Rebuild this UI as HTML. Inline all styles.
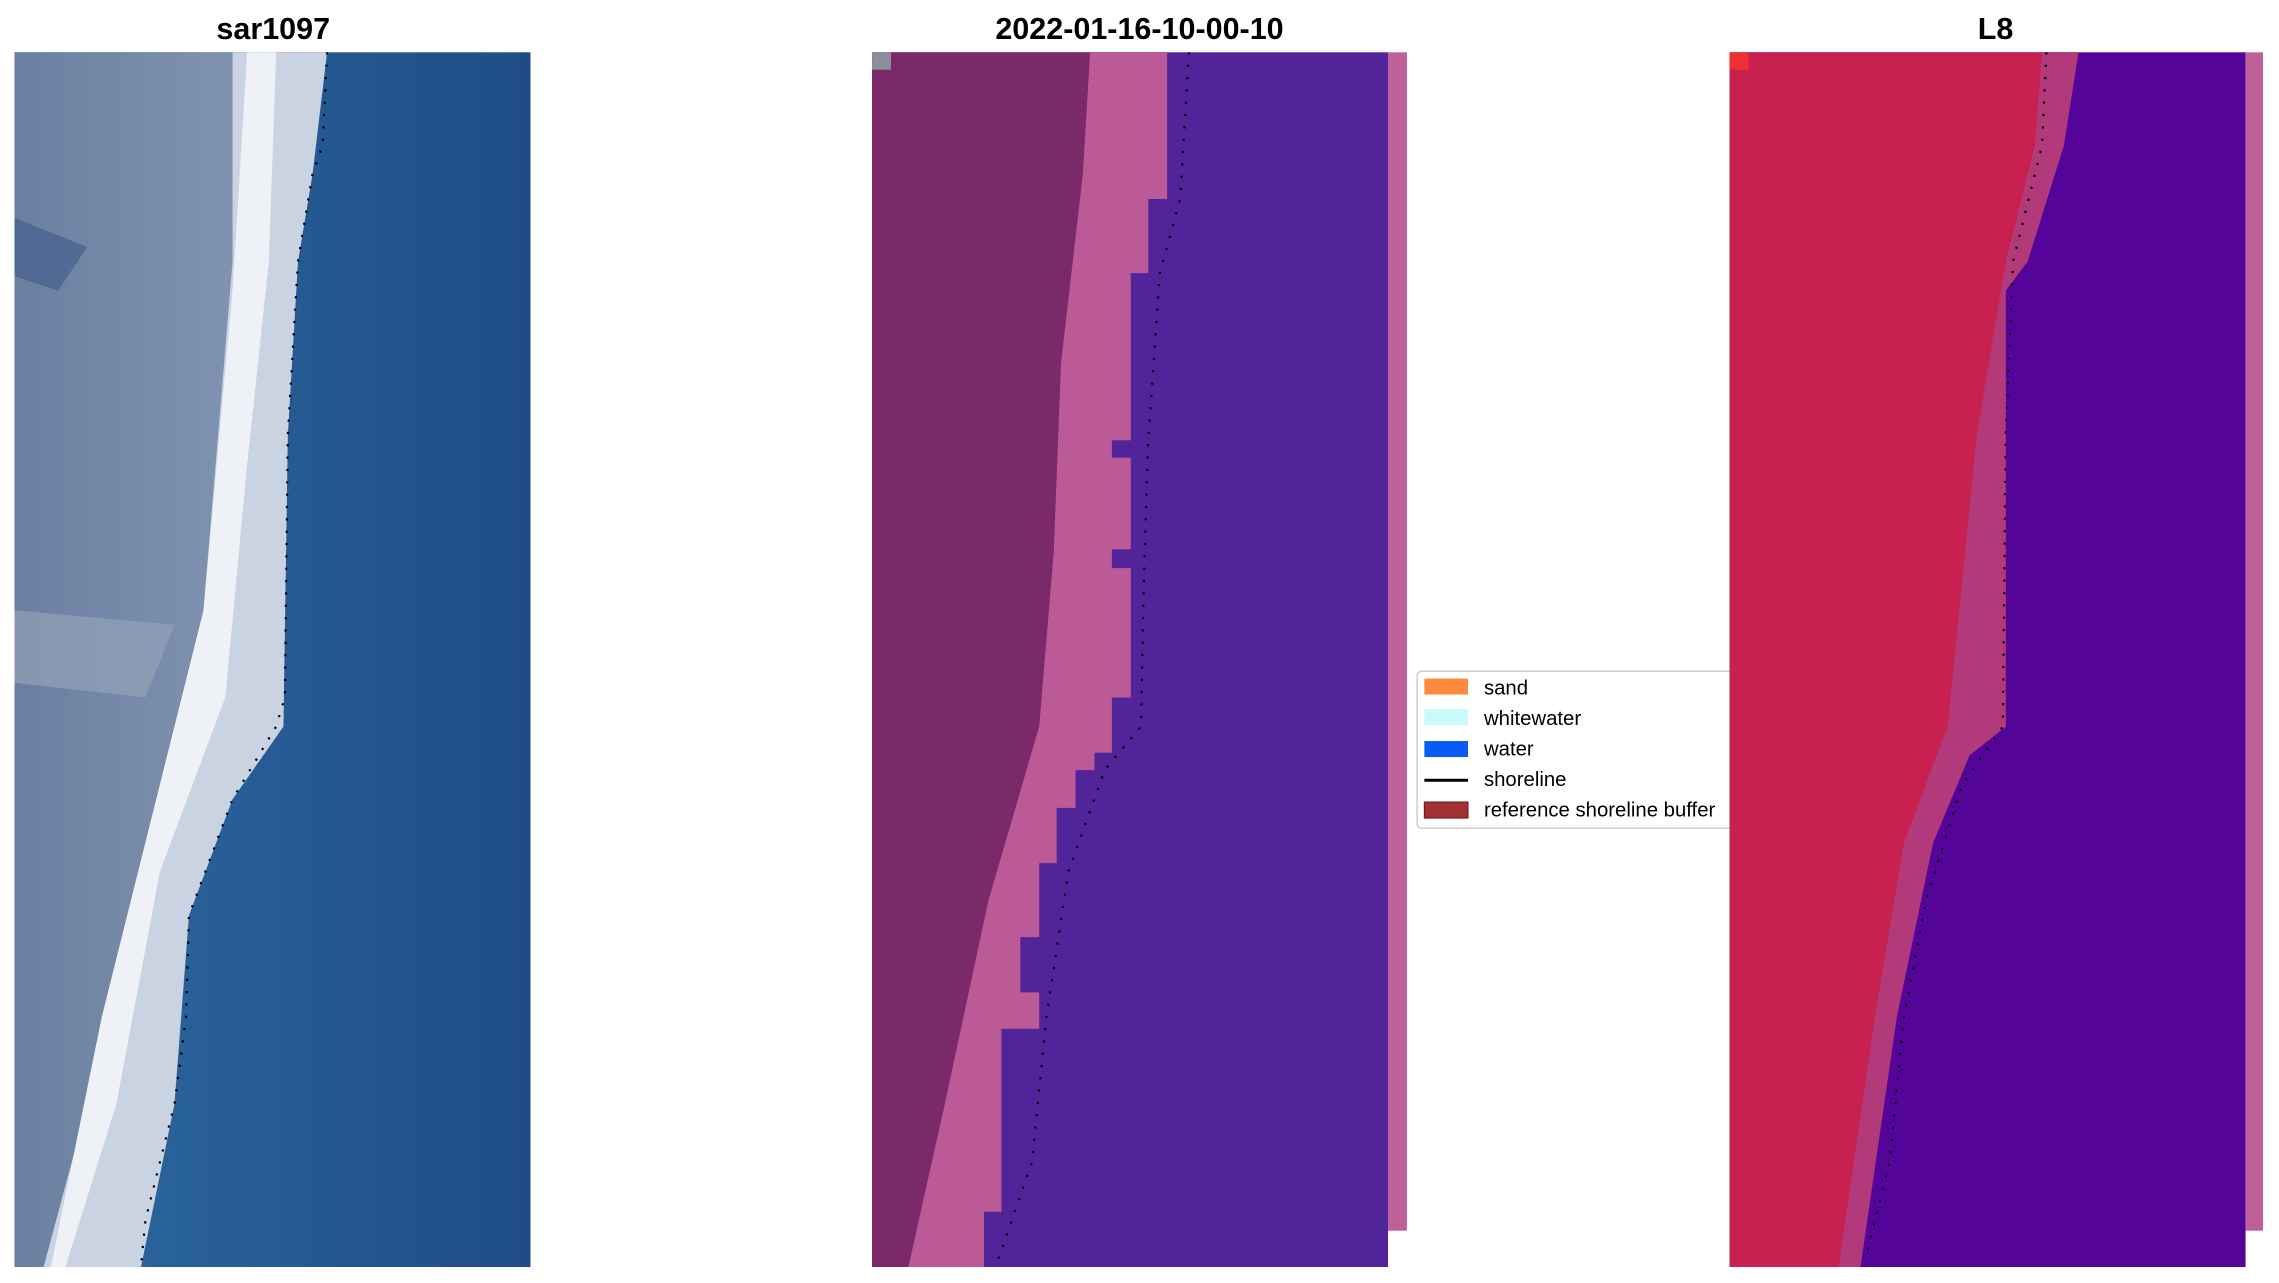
<!DOCTYPE html>
<html><head><meta charset="utf-8"><style>html,body{margin:0;padding:0;background:#fff}svg{display:block}</style></head>
<body>
<svg width="2279" height="1283" viewBox="0 0 1568 883" preserveAspectRatio="none" xmlns="http://www.w3.org/2000/svg" font-family="Liberation Sans, DejaVu Sans, sans-serif">
<defs>
<linearGradient id="w1" x1="0" x2="1" y1="0" y2="0"><stop offset="0" stop-color="#2d6aa3"/><stop offset="1" stop-color="#1f4c86"/></linearGradient>
<linearGradient id="l1" x1="0" x2="1" y1="0" y2="0"><stop offset="0" stop-color="#6a7fa0"/><stop offset="1" stop-color="#8a9bb8"/></linearGradient>
</defs>
<text x="188" y="27" font-size="21" font-weight="bold" text-anchor="middle">sar1097</text>
<text x="784" y="27" font-size="21" font-weight="bold" text-anchor="middle">2022-01-16-10-00-10</text>
<text x="1373" y="27" font-size="21" font-weight="bold" text-anchor="middle">L8</text>

<!-- panel 1 -->
<rect x="10" y="36" width="355" height="836" fill="url(#w1)"/>
<polygon points="10,36 225,36 215,120 205,180 198,300 195,500 160,550 130,630 120,760 97,872 10,872" fill="url(#l1)"/>
<polygon points="160,36 225,36 215,120 205,180 198,300 195,500 160,550 130,630 120,760 97,872 30,872 60,760 95,650 120,520 140,420 150,300 160,180" fill="#c9d3e2"/>
<polygon points="170,36 190,36 185,180 170,320 155,480 110,600 80,760 45,872 35,872 70,700 110,540 140,420 160,200" fill="#eef1f6"/>
<polygon points="10,150 60,170 40,200 10,190" fill="#3d5a8a" opacity="0.6"/>
<polygon points="10,420 120,430 100,480 10,470" fill="#9aa6bb" opacity="0.6"/>
<polyline points="225,36 222,100 215,120 205,180 198,300 196,480 190,500 160,550 130,630 128,700 120,760 100,840 97,872" fill="none" stroke="#000" stroke-width="1.5" stroke-dasharray="1.5 7"/>

<!-- panel 2 -->
<rect x="600" y="36" width="355" height="836" fill="#52249a"/>
<rect x="955" y="36" width="13" height="811" fill="#c0609a"/>
<polygon points="600,36 803,36 803,137 790,137 790,188 778,188 778,303 765,303 765,315 778,315 778,378 765,378 765,391 778,391 778,480 765,480 765,518 753,518 753,530 740,530 740,556 727,556 727,594 715,594 715,645 702,645 702,683 715,683 715,708 689,708 689,834 677,834 677,872 600,872" fill="#7a2a68"/>
<polygon points="750,36 803,36 803,137 790,137 790,188 778,188 778,303 765,303 765,315 778,315 778,378 765,378 765,391 778,391 778,480 765,480 765,518 753,518 753,530 740,530 740,556 727,556 727,594 715,594 715,645 702,645 702,683 715,683 715,708 689,708 689,834 677,834 677,872 625,872 650,760 680,620 715,500 725,380 730,250 745,120" fill="#bb5a96"/>
<rect x="600" y="36" width="13" height="12" fill="#8a8f9a"/>
<polyline points="818,36 812,137 798,188 790,303 787,400 785,500 760,530 735,600 720,700 710,800 685,872" fill="none" stroke="#000" stroke-width="1.5" stroke-dasharray="1.5 7"/>

<!-- legend -->
<rect x="975" y="462" width="240" height="108" rx="3" fill="#fff" stroke="#ccc" stroke-width="1"/>
<rect x="980" y="467" width="30" height="11" fill="#fe8a3e"/>
<rect x="980" y="488" width="30" height="11" fill="#c8fafb"/>
<rect x="980" y="510" width="30" height="11" fill="#0a5bf5"/>
<line x1="980" y1="537" x2="1010" y2="537" stroke="#000" stroke-width="2"/>
<rect x="980" y="552" width="30" height="11" fill="#a03032" stroke="#7a1a1a" stroke-width="0.8"/>
<g font-size="14" fill="#000">
<text x="1021" y="478">sand</text>
<text x="1021" y="499">whitewater</text>
<text x="1021" y="520">water</text>
<text x="1021" y="541">shoreline</text>
<text x="1021" y="562">reference shoreline buffer</text>
</g>

<!-- panel 3 (drawn over legend) -->
<rect x="1190" y="36" width="355" height="836" fill="#55049a"/>
<rect x="1545" y="36" width="12" height="811" fill="#c0609a"/>
<polygon points="1190,36 1430,36 1420,100 1395,180 1380,200 1380,500 1355,520 1330,580 1305,700 1280,872 1190,872" fill="#c8204f"/>
<polygon points="1405,36 1430,36 1420,100 1395,180 1380,200 1380,500 1355,520 1330,580 1305,700 1280,872 1265,872 1290,700 1310,580 1340,500 1360,300 1380,180 1400,100" fill="#b23a7a"/>
<rect x="1190" y="36" width="13" height="12" fill="#f03030"/>
<polyline points="1408,36 1405,100 1385,180 1380,300 1378,500 1350,540 1325,620 1310,700 1300,800 1285,860" fill="none" stroke="#000" stroke-width="1.5" stroke-dasharray="1.5 7"/>
</svg>
</body></html>
